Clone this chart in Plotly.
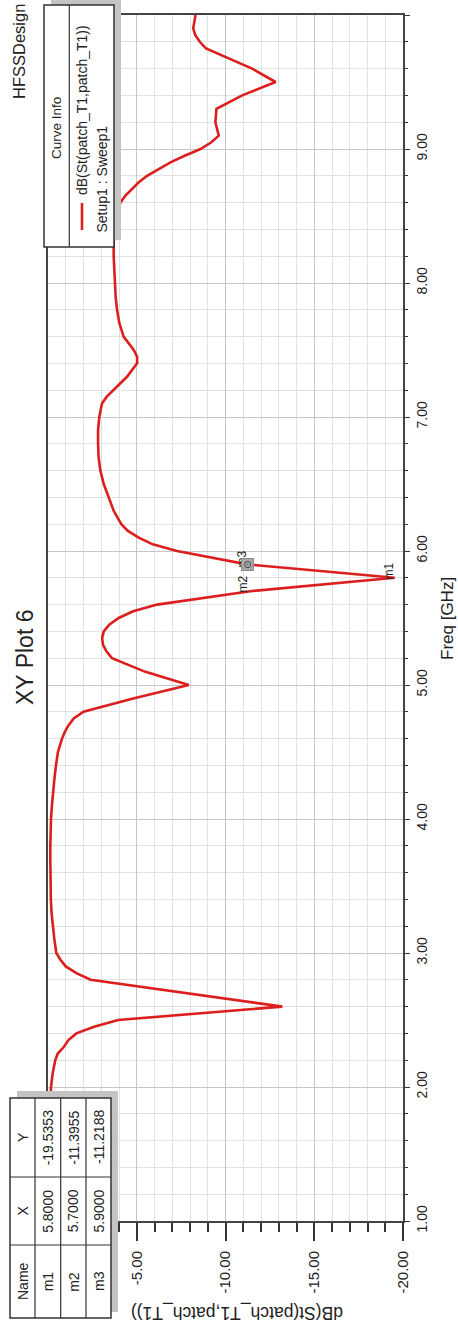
import plotly.graph_objects as go

# ---------------- data ----------------
freq_ghz = [1.0, 1.1, 1.2, 1.3, 1.4, 1.5, 1.6, 1.7, 1.8, 1.9,
            2.0, 2.1, 2.2, 2.25, 2.3, 2.35, 2.4, 2.45, 2.5, 2.6, 2.7, 2.8, 2.85, 2.9, 2.95,
            3.0, 3.1, 3.2, 3.3, 3.4, 3.5, 3.6, 3.7, 3.8, 3.9,
            4.0, 4.1, 4.2, 4.3, 4.4, 4.5, 4.6, 4.65, 4.7, 4.75, 4.8, 4.9,
            5.0, 5.1, 5.2, 5.25, 5.3, 5.35, 5.4, 5.45, 5.5, 5.55, 5.6, 5.7, 5.8, 5.9,
            6.0, 6.05, 6.1, 6.15, 6.2, 6.25, 6.3, 6.4, 6.5, 6.6, 6.7, 6.8, 6.9,
            7.0, 7.1, 7.15, 7.2, 7.25, 7.3, 7.4, 7.45, 7.5, 7.6, 7.7, 7.8, 7.9,
            8.0, 8.1, 8.2, 8.3, 8.4, 8.5, 8.6, 8.65, 8.7, 8.75, 8.8, 8.85, 8.9, 8.95,
            9.0, 9.05, 9.1, 9.2, 9.3, 9.4, 9.5, 9.6, 9.7, 9.75, 9.8, 9.85, 9.9, 10.0]
s11_db = [-0.04, -0.04, -0.05, -0.05, -0.06, -0.06, -0.07, -0.08, -0.09, -0.11,
          -0.17, -0.26, -0.41, -0.55, -0.90, -1.15, -1.60, -2.60, -3.95, -13.20, -7.80, -2.40, -1.60, -1.00, -0.70,
          -0.47, -0.36, -0.26, -0.20, -0.16, -0.14, -0.13, -0.13, -0.13, -0.14,
          -0.17, -0.22, -0.28, -0.36, -0.45, -0.56, -0.79, -0.95, -1.16, -1.45, -2.00, -4.80,
          -7.93, -5.45, -3.61, -3.30, -3.10, -3.05, -3.14, -3.45, -3.98, -4.80, -6.15, -11.3955, -19.5353, -11.2188,
          -7.27, -5.90, -5.11, -4.50, -4.13, -3.90, -3.70, -3.42, -3.14, -2.95, -2.85, -2.82, -2.82,
          -2.89, -3.04, -3.30, -3.70, -4.10, -4.45, -5.02, -5.02, -4.83, -4.26, -4.02, -3.89, -3.81,
          -3.76, -3.72, -3.70, -3.70, -3.74, -3.83, -4.08, -4.35, -4.74, -5.10, -5.58, -6.20, -6.90, -7.70,
          -8.59, -9.20, -9.62, -9.43, -9.49, -10.94, -12.82, -11.50, -9.72, -8.90, -8.55, -8.30, -8.18, -8.31]

marker_names = ["m1", "m2", "m3"]
marker_x = [5.8, 5.7, 5.9]
marker_y = [-19.5353, -11.3955, -11.2188]

freq_tickvals = [1, 2, 3, 4, 5, 6, 7, 8, 9, 10]
freq_ticktext = ["1.00", "2.00", "3.00", "4.00", "5.00", "6.00", "7.00", "8.00", "9.00", "10.0"]
db_tickvals = [-5, -10, -15, -20]
db_ticktext = ["-5.00", "-10.00", "-15.00", "-20.00"]

title_text = "XY Plot 6"
design_text = "HFSSDesign"
freq_title = "Freq [GHz]"
db_title = "dB(St(patch_T1,patch_T1))"
legend_header = "Curve Info"
legend_curve = "dB(St(patch_T1,patch_T1))"
legend_setup = "Setup1 : Sweep1"

# ---------------- layout helpers ----------------
W, H = 458, 1328
L, R, T, B = 48, 55, 15, 107
PW, PH = W - L - R, H - T - B
FONT = "Liberation Sans, Arial, sans-serif"
RED = "#dc1e1e"
INK = "#222222"


def px(x):
    return (x - L) / PW


def py(y):
    return (H - B - y) / PH


fig = go.Figure()
fig.add_trace(go.Scatter(x=s11_db, y=freq_ghz, mode="lines",
                         line=dict(color=RED, width=2.6), hoverinfo="skip",
                         showlegend=False))

shapes = []
annotations = []


def rect(x0, y0, x1, y1, fill, line_color=None, lw=0):
    shapes.append(dict(type="rect", xref="paper", yref="paper", layer="above",
                       x0=px(x0), x1=px(x1), y0=py(y1), y1=py(y0),
                       fillcolor=fill,
                       line=dict(color=line_color or fill, width=lw)))


def seg(x0, y0, x1, y1, color, lw):
    shapes.append(dict(type="line", xref="paper", yref="paper", layer="above",
                       x0=px(x0), x1=px(x1), y0=py(y0), y1=py(y1),
                       line=dict(color=color, width=lw)))


def text(x, y, s, size, angle=-90, xa="center", ya="middle", color=INK):
    annotations.append(dict(xref="paper", yref="paper", x=px(x), y=py(y),
                            text=s, showarrow=False, textangle=angle,
                            xanchor=xa, yanchor=ya,
                            font=dict(family=FONT, size=size, color=color)))


# titles
text(25, 658, title_text, 23)
text(19, 52, design_text, 16.5)
text(448, 619, freq_title, 17)
text(237, 1313, db_title, 17.5, angle=180)

# curve info legend box
rect(51, 0, 121, 240, "#c4c4c4")
rect(44, 5, 114, 247, "white", "#333333", 1.5)
seg(69.3, 5, 69.3, 247, "#333333", 1.2)
seg(82, 203, 82, 230, RED, 2.6)
text(57, 128, legend_header, 13.5)
text(82, 197, legend_curve, 14, ya="bottom")
text(102, 235, legend_setup, 14, ya="bottom")

# marker table
tx = [10, 35, 60.7, 86, 111]
ty = [1098, 1177, 1245, 1318]
rect(17, 1091, 118, 1312, "#c4c4c4")
rect(tx[0], ty[0], tx[-1], ty[-1], "white", "#333333", 1.5)
for xv in tx[1:-1]:
    seg(xv, ty[0], xv, ty[-1], "#333333", 1.2)
for yv in ty[1:-1]:
    seg(tx[0], yv, tx[-1], yv, "#333333", 1.2)
col_c = [(tx[i] + tx[i + 1]) / 2 for i in range(4)]
row_name, row_x, row_y = (ty[2] + ty[3]) / 2, (ty[1] + ty[2]) / 2, (ty[0] + ty[1]) / 2
text(col_c[0], row_name, "Name", 14)
text(col_c[0], row_x, "X", 14)
text(col_c[0], row_y, "Y", 14)
for i, (nm, mx, my) in enumerate(zip(marker_names, marker_x, marker_y)):
    text(col_c[i + 1], row_name, nm, 14)
    text(col_c[i + 1], row_x, f"{mx:.4f}", 14)
    text(col_c[i + 1], row_y, f"{my:.4f}", 14)

# marker labels on curve
label_shift = {"m1": (-6, 7), "m2": (-7, 7), "m3": (-5, 5)}
for nm, mx, my in zip(marker_names, marker_x, marker_y):
    dx, dy = label_shift[nm]
    annotations.append(dict(xref="x", yref="y", x=my, y=mx, text=nm,
                            showarrow=False, textangle=-90, xshift=dx, yshift=dy,
                            font=dict(family=FONT, size=12, color=INK)))
# selected marker (m3) square symbol
annotations.append(dict(xref="x", yref="y", x=marker_y[2], y=marker_x[2],
                        text="⊙", showarrow=False, width=11, height=11,
                        bgcolor="#a8a8a8", bordercolor="#8a8a8a", borderwidth=1,
                        borderpad=0,
                        font=dict(family="DejaVu Sans", size=10, color="#3a3a3a")))

fig.update_layout(
    width=W, height=H,
    margin=dict(l=L, r=R, t=T, b=B, pad=0),
    paper_bgcolor="white", plot_bgcolor="white",
    showlegend=False,
    shapes=shapes, annotations=annotations,
    xaxis=dict(range=[0, -20], tickmode="array", tickvals=db_tickvals,
               ticktext=db_ticktext, tickangle=-90, ticks="outside", ticklen=18,
               tickwidth=1.5, tickcolor="#333333", ticklabelstandoff=4,
               tickfont=dict(family=FONT, size=15, color=INK),
               showgrid=True, gridcolor="#c6c6c6", gridwidth=1,
               minor=dict(tickmode="linear", tick0=0, dtick=1, ticks="outside",
                          ticklen=9, tickwidth=1.5, tickcolor="#333333",
                          showgrid=True, gridcolor="#e2e2e2", gridwidth=1),
               showline=True, linecolor="#444444", linewidth=2, mirror=True,
               zeroline=False, fixedrange=True),
    yaxis=dict(range=[1, 10], side="right", tickmode="array", tickvals=freq_tickvals,
               ticktext=freq_ticktext, tickangle=-90, ticks="outside", ticklen=5,
               tickwidth=1.2, tickcolor="#333333",
               tickfont=dict(family=FONT, size=14, color=INK),
               showgrid=True, gridcolor="#c6c6c6", gridwidth=1,
               minor=dict(tickmode="linear", tick0=1, dtick=0.2, ticks="outside",
                          ticklen=3, tickwidth=1.2, tickcolor="#333333",
                          showgrid=True, gridcolor="#e2e2e2", gridwidth=1),
               showline=True, linecolor="#444444", linewidth=2, mirror=True,
               zeroline=False, fixedrange=True),
)

fig.write_html("out.html")
